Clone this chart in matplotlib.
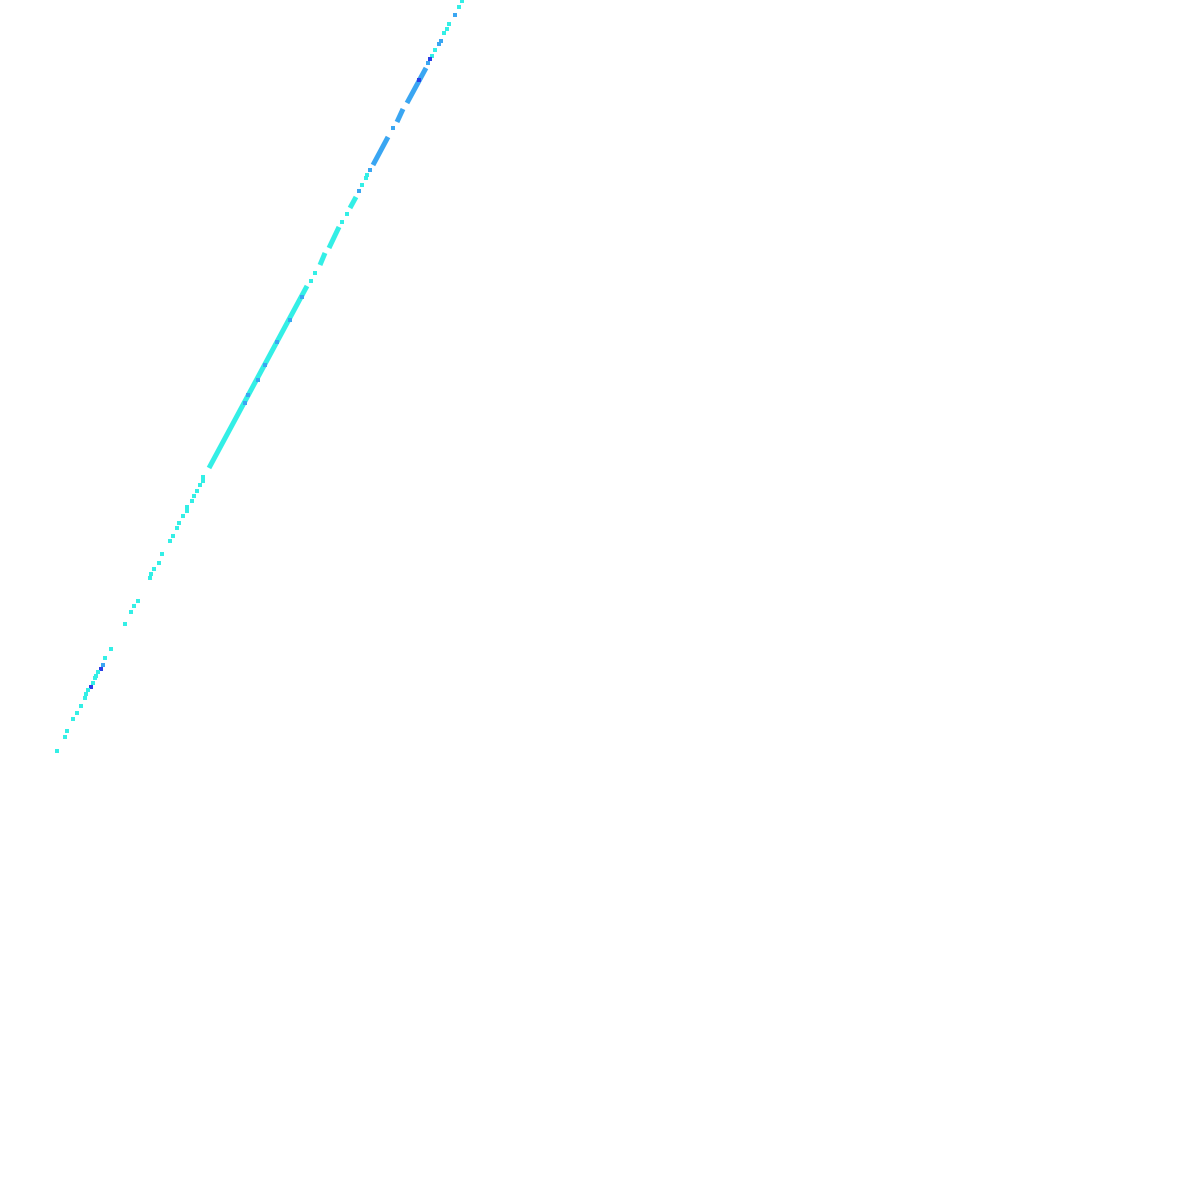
import matplotlib
matplotlib.use("Agg")
import matplotlib.pyplot as plt
from matplotlib.collections import LineCollection
from matplotlib.colors import ListedColormap, BoundaryNorm

# dense stretches along the diagonal: start / end and count level
seg_x0 = [4.26, 4.03, 3.88, 3.56, 3.39, 3.25, 3.07]
seg_y0 = [11.32, 10.91, 10.63, 10.03, 9.73, 9.47, 9.14]
seg_x1 = [4.07, 3.97, 3.73, 3.50, 3.29, 3.20, 2.09]
seg_y1 = [10.97, 10.78, 10.35, 9.92, 9.52, 9.35, 7.32]
seg_count = [2, 2, 2, 1, 1, 1, 1]

# isolated cells
dot_x = [4.62, 4.59, 4.55, 4.49, 4.47, 4.44, 4.41, 4.39, 4.35, 4.32, 4.30, 4.28,
         4.19, 3.93, 3.70, 3.67, 3.66, 3.62, 3.59, 3.47, 3.42, 3.15, 3.11, 3.02,
         2.90, 2.77, 2.65, 2.58, 2.48, 2.45, 2.03, 2.03, 2.00, 1.97, 1.94, 1.92,
         1.87, 1.87, 1.83, 1.79, 1.77, 1.73, 1.70, 1.62, 1.59, 1.54, 1.51, 1.50,
         1.38, 1.34, 1.31, 1.25, 1.11, 1.05, 1.03, 1.01, 0.98, 0.96, 0.95, 0.93,
         0.91, 0.88, 0.86, 0.85, 0.81, 0.77, 0.73, 0.67, 0.65, 0.57]
dot_y = [11.99, 11.93, 11.85, 11.76, 11.71, 11.67, 11.59, 11.56, 11.50, 11.44, 11.41, 11.37,
         11.20, 10.72, 10.30, 10.25, 10.22, 10.15, 10.09, 9.86, 9.78, 9.27, 9.19, 9.03,
         8.80, 8.58, 8.35, 8.20, 8.05, 7.97, 7.23, 7.19, 7.15, 7.09, 7.04, 6.99,
         6.93, 6.89, 6.84, 6.77, 6.72, 6.64, 6.59, 6.46, 6.37, 6.31, 6.26, 6.22,
         5.99, 5.94, 5.88, 5.76, 5.51, 5.42, 5.35, 5.31, 5.28, 5.24, 5.22, 5.17,
         5.13, 5.10, 5.06, 5.02, 4.94, 4.87, 4.81, 4.69, 4.63, 4.49]
dot_count = [1, 1, 2, 1, 1, 1, 2, 2, 1, 1, 3, 2,
             3, 2, 2, 1, 1, 1, 2, 1, 1, 1, 1, 2,
             2, 2, 2, 2, 2, 2, 1, 1, 1, 1, 1, 1,
             1, 1, 1, 1, 1, 1, 1, 1, 1, 1, 1, 1,
             1, 1, 1, 1, 1, 1, 2, 3, 1, 1, 1, 1,
             3, 1, 1, 1, 1, 1, 1, 1, 1, 1]

cmap = ListedColormap(['#33efe6', '#3aa6f2', '#2a3ee6'])
norm = BoundaryNorm([0.5, 1.5, 2.5, 3.5], cmap.N)

fig = plt.figure(figsize=(12, 12), dpi=100)
ax = fig.add_axes([0, 0, 1, 1])

segs = [[(a, b), (c, d)] for a, b, c, d in zip(seg_x0, seg_y0, seg_x1, seg_y1)]
lc = LineCollection(segs, cmap=cmap, norm=norm, linewidths=3.6,
                    capstyle='butt', zorder=2)
lc.set_array(seg_count)
ax.add_collection(lc)

ax.scatter(dot_x, dot_y, c=dot_count, cmap=cmap, norm=norm, s=12,
           marker='s', linewidths=0, zorder=3)

ax.set_xlim(0, 12)
ax.set_ylim(0, 12)
ax.axis('off')

fig.savefig('out.png', dpi=100, facecolor='white')
